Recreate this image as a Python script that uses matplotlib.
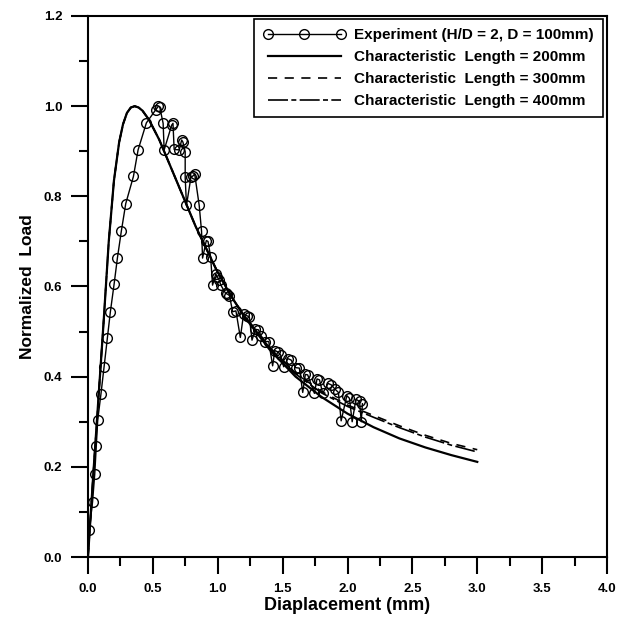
import numpy as np
import matplotlib
matplotlib.use('Agg')
import matplotlib.pyplot as plt
from matplotlib.ticker import MultipleLocator, FormatStrFormatter

plt.rcParams['font.family'] = ['Liberation Sans', 'DejaVu Sans']
plt.rcParams['font.weight'] = 'bold'

# simulated curves (characteristic length 200 / 300 / 400 mm)
sim_disp = [0.0, 0.04, 0.08, 0.12, 0.16, 0.20, 0.24, 0.27, 0.30, 0.33, 0.36, 0.39,
            0.42, 0.47, 0.55, 0.68, 0.83, 0.99, 1.10, 1.20, 1.40, 1.60, 1.80, 2.00,
            2.20, 2.40, 2.60, 2.80, 3.00]
sim_200 = [0.0, 0.18, 0.35, 0.52, 0.70, 0.835, 0.92, 0.96, 0.985, 0.997, 1.0, 0.997,
           0.99, 0.97, 0.925, 0.836, 0.733, 0.637, 0.58, 0.535, 0.46, 0.40, 0.355, 0.318,
           0.288, 0.263, 0.243, 0.226, 0.211]
sim_300 = [0.0, 0.18, 0.35, 0.52, 0.70, 0.835, 0.92, 0.96, 0.985, 0.997, 1.0, 0.997,
           0.99, 0.97, 0.925, 0.836, 0.733, 0.637, 0.58, 0.537, 0.465, 0.408, 0.367, 0.337,
           0.314, 0.291, 0.270, 0.252, 0.238]
sim_400 = [0.0, 0.18, 0.35, 0.52, 0.70, 0.835, 0.92, 0.96, 0.985, 0.997, 1.0, 0.997,
           0.99, 0.97, 0.925, 0.836, 0.733, 0.637, 0.58, 0.537, 0.464, 0.406, 0.364, 0.334,
           0.310, 0.287, 0.266, 0.248, 0.233]

# experiment H/D = 2, D = 100mm
exp_disp = [0.010, 0.035, 0.052, 0.064, 0.075, 0.100, 0.124, 0.149, 0.172, 0.201,
            0.227, 0.257, 0.291, 0.350, 0.386, 0.450, 0.522, 0.543, 0.553, 0.579,
            0.587, 0.645, 0.655, 0.664, 0.703, 0.722, 0.732, 0.749, 0.749, 0.759,
            0.793, 0.812, 0.822, 0.857, 0.875, 0.883, 0.912, 0.925, 0.945, 0.960,
            0.985, 0.995, 1.010, 1.024, 1.060, 1.075, 1.090, 1.115, 1.140, 1.174,
            1.200, 1.225, 1.243, 1.264, 1.290, 1.313, 1.335, 1.365, 1.393, 1.423,
            1.440, 1.462, 1.485, 1.508, 1.540, 1.565, 1.600, 1.629, 1.655, 1.675,
            1.693, 1.745, 1.765, 1.784, 1.809, 1.850, 1.874, 1.905, 1.930, 1.951,
            1.995, 2.015, 2.036, 2.065, 2.093, 2.106, 2.115]
exp_load = [0.060, 0.122, 0.184, 0.247, 0.304, 0.362, 0.422, 0.485, 0.543, 0.605,
            0.664, 0.723, 0.784, 0.844, 0.903, 0.963, 0.992, 1.000, 0.998, 0.962,
            0.903, 0.958, 0.962, 0.904, 0.903, 0.925, 0.920, 0.899, 0.842, 0.780,
            0.842, 0.846, 0.850, 0.780, 0.723, 0.663, 0.702, 0.700, 0.666, 0.603,
            0.628, 0.622, 0.615, 0.603, 0.585, 0.583, 0.580, 0.544, 0.546, 0.487,
            0.540, 0.535, 0.533, 0.481, 0.505, 0.504, 0.490, 0.478, 0.478, 0.424,
            0.458, 0.455, 0.448, 0.422, 0.440, 0.437, 0.420, 0.419, 0.365, 0.405,
            0.404, 0.363, 0.395, 0.393, 0.363, 0.385, 0.382, 0.372, 0.365, 0.302,
            0.358, 0.352, 0.300, 0.350, 0.345, 0.300, 0.340]

fig = plt.figure(figsize=(6.23, 6.22), dpi=100)
ax = fig.add_axes([88/623, 1-557/622, 519/623, 541/622])

ax.plot(exp_disp, exp_load, 'k-', lw=1.0, marker='o', ms=7, mfc='none', mec='k', mew=1.0,
        label='Experiment (H/D = 2, D = 100mm)')
ax.plot(sim_disp, sim_200, 'k-', lw=1.6, label='Characteristic  Length = 200mm')
ax.plot(sim_disp, sim_300, 'k--', lw=1.2, dashes=(5.5, 4.5), label='Characteristic  Length = 300mm')
ax.plot(sim_disp, sim_400, 'k-', lw=1.2, dashes=(12, 2, 3, 2), label='Characteristic  Length = 400mm')

ax.set_xlim(0, 4.0)
ax.set_ylim(0, 1.2)
ax.xaxis.set_major_locator(MultipleLocator(0.5))
ax.xaxis.set_minor_locator(MultipleLocator(0.25))
ax.yaxis.set_major_locator(MultipleLocator(0.2))
ax.yaxis.set_minor_locator(MultipleLocator(0.1))
ax.xaxis.set_major_formatter(FormatStrFormatter('%.1f'))
ax.yaxis.set_major_formatter(FormatStrFormatter('%.1f'))
ax.tick_params(which='major', direction='out', length=12.5, width=1.5, labelsize=9.5, pad=6)
ax.tick_params(which='minor', direction='out', length=6.5, width=1.5)
for s in ax.spines.values():
    s.set_linewidth(1.5)

ax.set_xlabel('Diaplacement (mm)', fontsize=13, fontweight='bold', labelpad=2)
ax.set_ylabel('Normalized  Load', fontsize=12.5, fontweight='bold', labelpad=6)

leg = ax.legend(loc='upper right', bbox_to_anchor=(0.992, 0.994), borderaxespad=0,
                fontsize=11, numpoints=3, handlelength=5.4, handletextpad=0.55,
                labelspacing=0.52, borderpad=0.6, fancybox=False, framealpha=1)
leg.get_frame().set_edgecolor('k')
leg.get_frame().set_linewidth(1.2)
for t in leg.get_texts():
    t.set_fontweight('bold')

fig.savefig('out.png', dpi=100)
